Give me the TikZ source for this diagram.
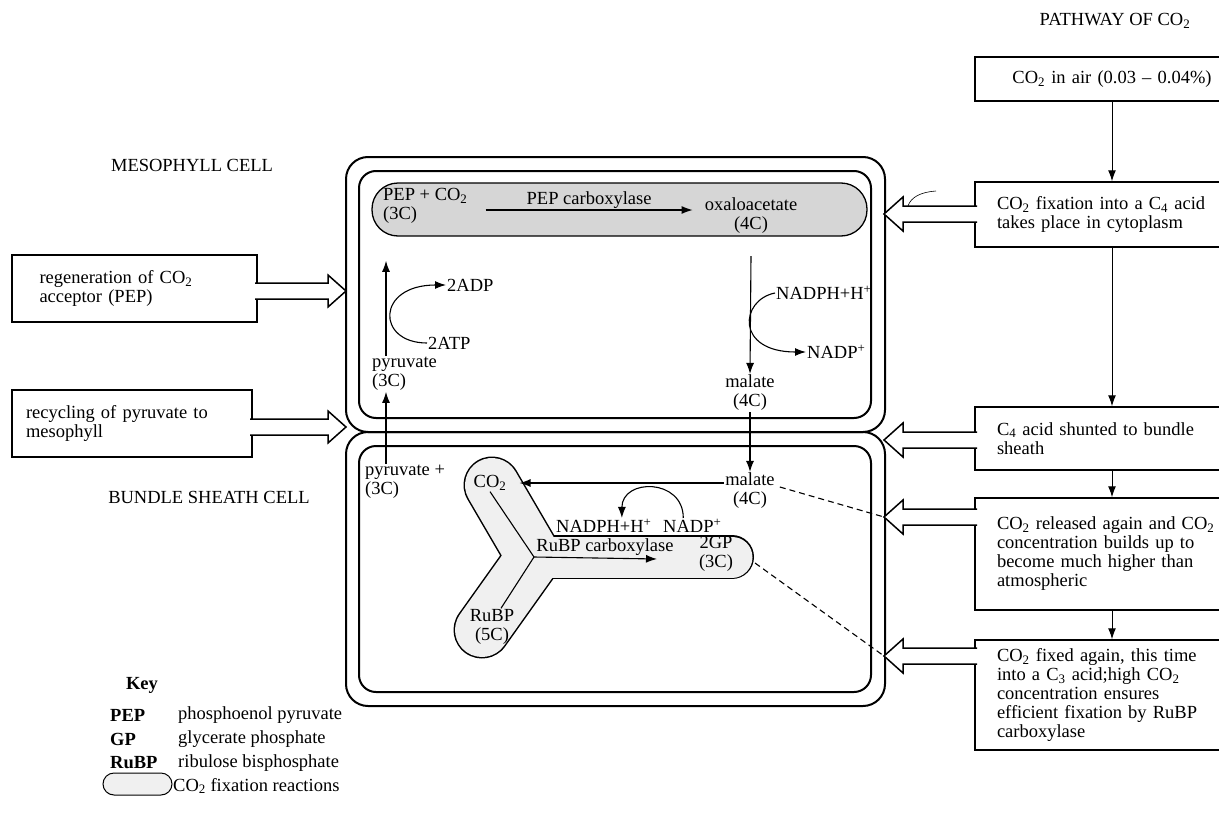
\documentclass[tikz,border=0pt]{standalone}
\usepackage{fontspec}
\setmainfont{Liberation Serif}
\usetikzlibrary{arrows.meta}
\newcommand{\cotwo}{CO\textsubscript{2}}

\tikzset{
  txt/.style={inner sep=1pt, align=left, font=\fontsize{18.5}{19}\selectfont},
  box/.style={draw, line width=1.5pt, txt},
  arr/.style={-{Latex[length=11pt,width=8pt]}, line width=1.1pt},
  wall/.style={line width=2pt},
  hollow/.style={line width=1.5pt, fill=white, line join=miter},
  link/.style={dash pattern=on 6pt off 4pt, line width=1.1pt},
}

\begin{document}
\begin{tikzpicture}[x=1pt,y=-1pt]
    \useasboundingbox (0,0) rectangle (1219,822);

    % headings
    \node[txt] (pathway) at (1115,21) {PATHWAY OF \cotwo};
    \node[txt] (meso) at (192,165) {MESOPHYLL CELL};
    \node[txt] (bundle) at (209,497) {BUNDLE SHEATH CELL};

    % cell walls and membranes
    \draw[wall, rounded corners=22] (346,157) rectangle (885,432);
    \draw[wall, rounded corners=22] (346,432) rectangle (885,706);
    \draw[wall, rounded corners=17] (359,171) rectangle (871,418);
    \draw[wall, rounded corners=17] (359,446) rectangle (871,692);

    % shaded fixation zones
    \draw[line width=1.3pt, fill=gray!32, rounded corners=26] (372,183) rectangle (867,236);
    \coordinate (yco2) at (492,485);
    \coordinate (jn) at (534,557);
    \coordinate (yrubp) at (482,630);
    \coordinate (ygp) at (732,557);
    \draw[line width=57pt, line cap=round, line join=round] (yco2) -- (jn) -- (yrubp);
    \draw[line width=44pt, line cap=round] (jn) -- (ygp);
    \draw[line width=54pt, line cap=round, line join=round, gray!12] (yco2) -- (jn) -- (yrubp);
    \draw[line width=41pt, line cap=round, gray!12] (jn) -- (ygp);

    % mesophyll cell
    \node[txt, anchor=west] (pep) at (382,206) {PEP + \cotwo\\(3C)};
    \node[txt, align=center] (oaa) at (751,216) {oxaloacetate\\(4C)};
    \node[txt, align=center] (malM) at (750,393) {malate\\(4C)};
    \node[txt, anchor=west] (pyrM) at (371,374) {pyruvate\\(3C)};
    \node[txt, anchor=west] (nadphM) at (775,293) {NADPH+H\textsuperscript{+}};
    \node[txt, anchor=west] (nadpM) at (806,352) {NADP\textsuperscript{+}};
    \node[txt, anchor=west] (adp) at (446,285) {2ADP};
    \node[txt, anchor=west] (atp) at (427,343) {2ATP};

    \draw[arr] ([xshift=17pt,yshift=-4pt]pep.east) -- node[txt, above] (pepc) {PEP carboxylase} ([xshift=-11pt,yshift=6pt]oaa.west);
    \draw[arr] ([yshift=-21pt]oaa.south) -- (malM.north);
    \draw[arr] (nadphM.west) .. controls (740,300) and (735,352) .. (nadpM.west);
    \draw[arr] ([xshift=15pt]pyrM.north west) -- ([xshift=4pt,yshift=-36pt]pep.south west);
    \draw[arr] (atp.west) .. controls (376,343) and (376,285) .. (adp.west);

    % bundle sheath cell
    \node[txt, anchor=west] (pyrB) at (364,482) {pyruvate +\\(3C)};
    \node[txt] (co2B) at (490,483) {\cotwo};
    \node[txt, align=center] (malB) at (750,491) {malate\\(4C)};
    \node[txt, align=center] (rubp) at (492,627) {RuBP\\(5C)};
    \node[txt, align=center] (gp) at (716,554) {2GP\\(3C)};
    \node[txt, anchor=west] (nadphB) at (555,526) {NADPH+H\textsuperscript{+}};
    \node[txt, anchor=west] (nadpB) at (662,526) {NADP\textsuperscript{+}};
    \node[txt] (rubisco) at (605,547) {RuBP carboxylase};
    \coordinate (gparr) at (657,559);
    \coordinate (gpend) at (755,563);

    \draw[arr] (malM.south) -- (malB.north);
    \draw[arr] ([xshift=22pt]pyrB.north west) -- ([xshift=15pt]pyrM.south west);
    \draw[arr] ([yshift=8pt]malB.west) -- ([xshift=12pt]co2B.east);
    \draw[line width=1.1pt] (co2B.south) -- (jn);
    \draw[line width=1.1pt] ([xshift=9pt]rubp.north) -- (jn);
    \draw[arr] (jn) -- (gparr);
    \draw[arr] ([xshift=-9pt]nadpB.north) .. controls +(0,-40) and +(0,-40) .. ([xshift=18pt]nadphB.north);

    % pathway of CO2
    \node[box, minimum width=274, minimum height=44, text width=230, align=center] (air) at (1112,79) {\cotwo{} in air (0.03 -- 0.04\%)};
    \node[box, minimum width=274, minimum height=65, text width=230] (fix) at (1112,214.5) {\cotwo{} fixation into a C\textsubscript{4} acid\\takes place in cytoplasm};
    \node[box, minimum width=274, minimum height=63, text width=230] (shunt) at (1112,438.5) {C\textsubscript{4} acid shunted to bundle\\sheath};
    \node[box, minimum width=274, minimum height=112, text width=230] (release) at (1112,554) {\cotwo{} released again and \cotwo\\concentration builds up to\\become much higher than\\atmospheric};
    \node[box, minimum width=274, minimum height=110, text width=230] (refix) at (1112,695) {\cotwo{} fixed again, this time\\into a C\textsubscript{3} acid;high \cotwo\\concentration ensures\\efficient fixation by RuBP\\carboxylase};

    \draw[arr, line width=1pt] (air.south) -- (fix.north);
    \draw[arr, line width=1pt] (fix.south) -- (shunt.north);
    \draw[arr, line width=1pt] (shunt.south) -- (release.north);
    \draw[arr, line width=1pt] (release.south) -- (refix.north);

    \foreach \b/\y in {fix/214, shunt/440, release/517, refix/656}{
        \filldraw[hollow] (977,\y-8) -- (903,\y-8) -- (903,\y-17) -- (884,\y) -- (903,\y+17) -- (903,\y+8) -- (977,\y+8);
        \coordinate (\b-tip) at (884,\y);
    }
    \draw[line width=0.6pt] (908,206) .. controls (911,197) and (921,192) .. (936,191);

    \draw[link] ([xshift=4pt,yshift=4pt]malB.east) -- (release-tip);
    \draw[link] (gpend) -- (refix-tip);

    % left side boxes
    \node[box, minimum width=245, minimum height=67, text width=190] (regen) at (134.5,288.5) {regeneration of \cotwo\\acceptor (PEP)};
    \node[box, minimum width=240, minimum height=67, text width=212] (recycle) at (132,423.5) {recycling of pyruvate to\\mesophyll};
    \foreach \x/\y in {257/291, 252/427}
        \filldraw[hollow] (\x-2,\y-8) -- (328,\y-8) -- (328,\y-16) -- (346,\y) -- (328,\y+16) -- (328,\y+8) -- (\x-2,\y+8);

    % key
    \node[txt, font=\fontsize{18.5}{19}\selectfont\bfseries] (key) at (142,685) {Key};
    \foreach \ab/\full [count=\i] in {PEP/phosphoenol pyruvate, GP/glycerate phosphate, RuBP/ribulose bisphosphate}{
        \node[txt, anchor=west] (ab\i) at (109,691+24*\i) {\textbf{\ab}};
        \node[txt, anchor=west] (full\i) at (177,691+24*\i) {\full};
    }
    \draw[line width=1pt, fill=gray!12, rounded corners=11] (103,773) rectangle (172,795);
    \node[txt, anchor=west] (keyfix) at (172,786) {\cotwo{} fixation reactions};
\end{tikzpicture}
\end{document}
